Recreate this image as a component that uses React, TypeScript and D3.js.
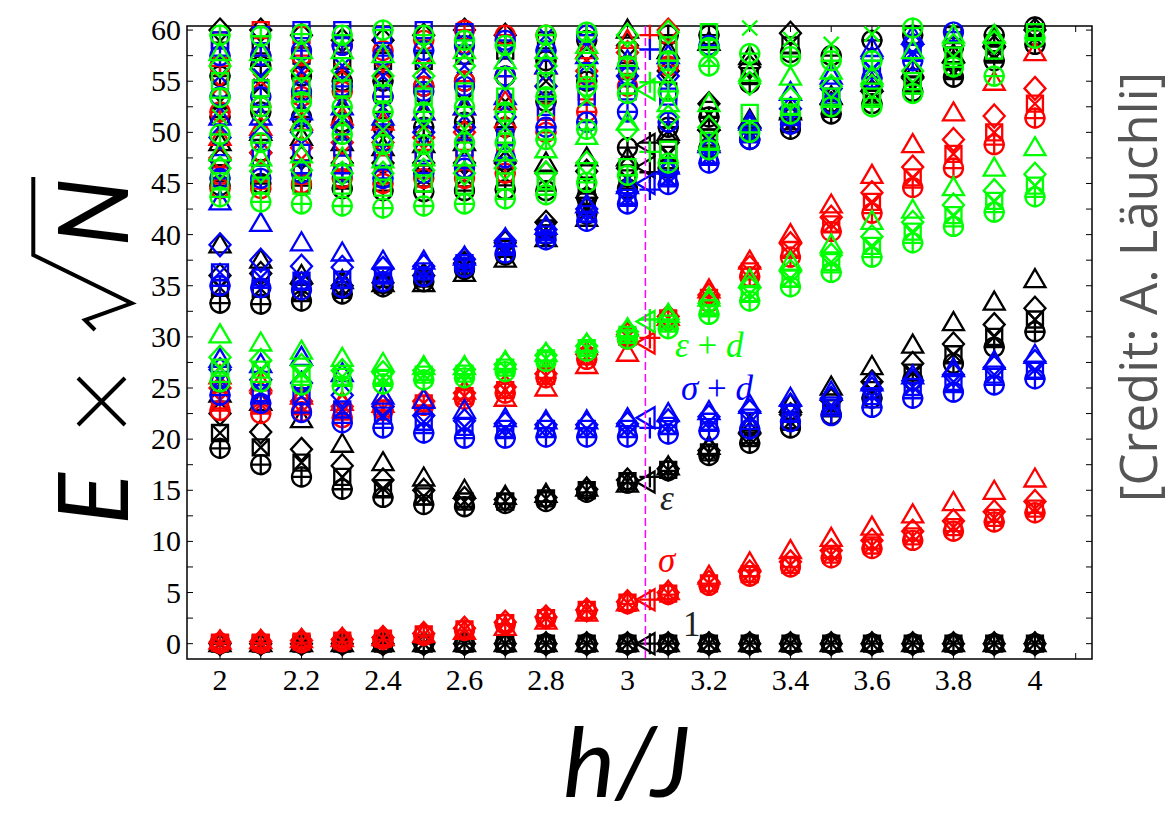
import React from "react";
import * as d3 from "d3";

// h/J columns of the scan
const hValues = [2.0, 2.1, 2.2, 2.3, 2.4, 2.5, 2.6, 2.7, 2.8, 2.9, 3.0, 3.1, 3.2, 3.3, 3.4, 3.5, 3.6, 3.7, 3.8, 3.9, 4.0];
const clusterH = [2.0, 2.1, 2.2, 2.3, 2.4, 2.5, 2.6, 2.7, 2.8, 2.9, 3.0, 3.1];
const upperH = [3.2, 3.3, 3.4, 3.5, 3.6, 3.7, 3.8, 3.9, 4.0];

const xTickValues = [2.0, 2.1, 2.2, 2.3, 2.4, 2.5, 2.6, 2.7, 2.8, 2.9, 3.0, 3.1, 3.2, 3.3, 3.4, 3.5, 3.6, 3.7, 3.8, 3.9, 4.0, 4.1];
const xTickLabels = ["2", "2.2", "2.4", "2.6", "2.8", "3", "3.2", "3.4", "3.6", "3.8", "4"];
const yTickValues = [0, 2.5, 5, 7.5, 10, 12.5, 15, 17.5, 20, 22.5, 25, 27.5, 30, 32.5, 35, 37.5, 40, 42.5, 45, 47.5, 50, 52.5, 55, 57.5, 60];
const yTickLabels = [0, 5, 10, 15, 20, 25, 30, 35, 40, 45, 50, 55, 60];

const hCritical = 3.044;
const hCft = 3.048;
const hCftPlus = 3.055;

// rows per h column: [circle & plus, square & cross, diamond, triangle]
const groundBlack = [
  [0, 0, 0, 0], [0, 0, 0, 0], [0, 0, 0, 0], [0, 0, 0, 0], [0, 0, 0, 0], [0, 0, 0, 0], [0, 0, 0, 0],
  [0, 0, 0, 0], [0, 0, 0, 0], [0, 0, 0, 0], [0, 0, 0, 0], [0, 0, 0, 0], [0, 0, 0, 0], [0, 0, 0, 0],
  [0, 0, 0, 0], [0, 0, 0, 0], [0, 0, 0, 0], [0, 0, 0, 0], [0, 0, 0, 0], [0, 0, 0, 0], [0, 0, 0, 0],
];
const sigmaRed = [
  [0.05, 0.1, 0.15, 0.25], [0.05, 0.1, 0.2, 0.3], [0.1, 0.2, 0.3, 0.4], [0.2, 0.3, 0.4, 0.5], [0.4, 0.5, 0.6, 0.6],
  [0.8, 0.9, 1.0, 0.9], [1.3, 1.4, 1.5, 1.2], [1.9, 2.0, 2.1, 1.6], [2.5, 2.5, 2.6, 2.2], [3.2, 3.3, 3.3, 3.0],
  [3.9, 4.0, 4.1, 4.0], [4.8, 4.9, 5.0, 5.1], [5.7, 5.9, 6.0, 6.6], [6.6, 6.8, 7.0, 7.9], [7.5, 7.7, 8.0, 9.1],
  [8.4, 8.7, 9.1, 10.3], [9.3, 9.6, 10.1, 11.4], [10.1, 10.5, 11.0, 12.6], [11.0, 11.4, 12.0, 13.8],
  [11.9, 12.3, 12.9, 14.9], [12.8, 13.2, 13.9, 16.1],
];
const epsBlack = [
  [19.1, 20.6, 22.5, 24.4], [17.5, 19.2, 20.7, 23.6], [16.3, 17.7, 19.0, 21.9], [15.1, 16.3, 17.4, 19.5],
  [14.3, 15.2, 16.0, 17.7], [13.6, 14.4, 15.0, 16.2], [13.4, 13.9, 14.2, 15.0], [13.7, 13.9, 14.1, 14.4],
  [13.9, 14.2, 14.3, 14.6], [14.8, 15.0, 15.1, 15.2], [15.7, 15.9, 16.0, 15.6], [16.9, 17.0, 17.1, 17.3],
  [18.4, 18.7, 18.9, 19.3], [19.6, 20.1, 20.5, 21.4], [21.1, 21.7, 22.4, 23.4], [22.4, 23.0, 23.8, 25.1],
  [24.0, 24.8, 25.6, 27.1], [25.8, 26.5, 27.4, 29.2], [27.4, 28.3, 29.3, 31.4], [29.0, 30.0, 31.2, 33.4],
  [30.5, 31.7, 32.8, 35.6],
];
const sigmaDBlue = [
  [24.3, 25.8, 26.8, 27.8], [23.5, 24.5, 25.8, 27.3], [22.6, 24.2, 25.5, 28.0], [21.6, 22.9, 24.3, 26.4],
  [21.1, 22.3, 23.2, 24.2], [20.6, 21.7, 22.3, 23.8], [20.1, 21.2, 21.8, 22.8], [20.1, 21.0, 21.5, 22.0],
  [20.2, 21.0, 21.4, 21.8], [20.2, 21.0, 21.4, 21.8], [20.2, 21.0, 21.5, 22.0], [20.5, 21.3, 21.8, 22.5],
  [20.8, 21.7, 22.2, 22.7], [21.0, 22.1, 22.7, 23.3], [21.7, 22.6, 23.3, 24.0], [22.3, 23.3, 24.0, 24.6],
  [23.1, 24.2, 24.9, 25.5], [24.0, 25.1, 25.7, 26.2], [24.6, 25.6, 26.3, 26.9], [25.3, 26.3, 27.0, 27.6],
  [25.9, 26.8, 27.6, 28.2],
];
const redUpper = [
  [22.8, 23.8, 25.0, 26.2], [22.5, 23.4, 24.5, 25.5], [22.7, 23.2, 23.7, 24.2], [22.1, 22.7, 23.2, 23.6],
  [22.8, 23.0, 23.2, 23.4], [23.3, 23.5, 23.7, 23.9], [23.9, 24.2, 24.5, 24.7], [24.5, 24.8, 25.1, 24.0],
  [26.0, 26.2, 26.4, 25.0], [27.8, 28.1, 28.3, 27.2], [29.8, 30.0, 30.2, 28.4], [31.6, 31.8, 32.0, 31.9],
  [33.4, 33.8, 34.1, 34.6], [35.9, 36.4, 36.8, 37.4], [37.8, 38.5, 39.1, 40.0], [40.3, 41.0, 41.7, 42.9],
  [42.1, 43.2, 44.1, 45.8], [44.6, 45.6, 46.6, 48.8], [46.5, 47.9, 49.3, 51.9], [48.8, 50.0, 51.6, 54.9],
  [51.4, 52.8, 54.3, 57.8],
];
const epsDGreen = [
  [25.6, 27.0, 28.0, 30.2], [25.6, 26.8, 27.7, 29.4], [25.3, 26.4, 27.2, 28.6], [25.2, 26.1, 26.7, 27.9],
  [25.4, 26.0, 26.5, 27.4], [25.8, 26.3, 26.7, 27.1], [26.0, 26.4, 26.8, 27.1], [26.6, 27.0, 27.3, 27.6],
  [27.6, 27.9, 28.2, 28.4], [28.6, 28.9, 29.1, 29.3], [29.8, 30.2, 30.5, 30.8], [30.8, 31.3, 31.7, 32.2],
  [32.2, 32.8, 33.3, 33.8], [33.5, 34.2, 34.8, 35.6], [34.9, 35.7, 36.4, 37.3], [36.3, 37.3, 38.0, 39.0],
  [37.8, 38.9, 39.8, 41.3], [39.2, 40.3, 41.2, 42.4], [40.8, 41.9, 42.9, 44.6], [42.2, 43.3, 44.3, 46.5],
  [43.7, 44.8, 45.9, 48.5],
];
const bandBlack = [
  [33.3, 34.8, 36.0, 39.0], [33.2, 34.7, 36.2, 37.5], [33.5, 34.3, 35.2, 36.0], [34.2, 34.6, 35.0, 35.5],
  [34.9, 35.1, 35.3, 35.2], [35.4, 35.7, 36.0, 35.2], [36.6, 36.9, 37.2, 36.2], [38.0, 38.6, 39.2, 37.6],
  [40.0, 40.6, 41.2, 39.6], [42.0, 42.8, 43.6, 41.6], [44.5, 45.5, 46.5, 47.5], [46.5, 47.8, 49.0, 50.0],
  [48.5, 49.5, 50.2, 51.0], [49.3, 50.0, 50.5, 51.2], [50.3, 50.8, 51.4, 52.0], [51.8, 52.3, 52.8, 53.5],
  [52.8, 53.4, 54.0, 54.8], [54.0, 54.6, 55.3, 56.2], [55.4, 56.0, 56.8, 57.6], [57.0, 57.6, 58.3, 59.2],
  [58.6, 59.2, 60.0, 61.0],
];
const bandBlue = [
  [35.0, 36.3, 39.0, 43.2], [34.8, 35.8, 37.5, 41.1], [34.6, 35.5, 36.9, 39.2], [34.8, 35.6, 36.8, 38.2],
  [35.4, 36.0, 36.7, 37.4], [35.9, 36.4, 36.9, 37.4], [36.8, 37.2, 37.6, 37.8], [38.2, 38.8, 39.4, 39.6],
  [39.5, 40.0, 40.5, 40.8], [41.3, 42.0, 42.5, 42.9], [43.0, 43.6, 44.2, 44.8], [44.9, 45.5, 46.1, 46.7],
  [47.0, 47.6, 48.2, 48.8], [49.3, 49.8, 50.4, 51.0], [50.8, 51.5, 52.3, 53.9], [52.8, 53.5, 54.3, 55.5],
  [55.3, 56.2, 57.2, 58.2], [57.0, 57.8, 58.6, 59.4], [59.8, 61, 61, 61], [61, 61, 61, 61], [61, 61, 61, 61],
];

// dense upper spectrum, one list per h column (2.0 .. 3.1)
const clusterBlack = [
  [44.8, 46.0, 47.3, 49.0, 51.5, 53.0, 55.5, 58.0, 60.0],
  [45.0, 46.5, 48.0, 50.0, 52.0, 54.5, 56.5, 58.5, 60.0],
  [44.8, 46.0, 47.5, 49.5, 51.5, 53.5, 55.5, 57.5, 59.5],
  [44.5, 45.5, 47.0, 49.0, 51.0, 53.0, 55.0, 57.0, 59.0],
  [44.3, 45.5, 47.0, 48.5, 50.5, 52.5, 55.0, 57.0, 59.0],
  [44.2, 45.5, 47.0, 48.8, 50.5, 52.5, 54.5, 57.0, 59.5],
  [44.3, 45.5, 47.0, 49.0, 51.0, 53.0, 55.0, 57.5, 60.0],
  [44.4, 45.6, 47.0, 48.0, 50.5, 53.0, 55.5, 58.0, 59.5],
  [44.3, 45.4, 46.0, 47.0, 53.0, 55.0, 57.0, 59.0],
  [43.6, 44.8, 46.2, 47.5, 55.0, 57.0, 59.0],
  [48.5, 56.0, 58.5, 60.0],
  [50.5, 54.0, 56.0, 58.0, 59.5],
];
const clusterRed = [
  [44.5, 45.8, 47.5, 49.5, 52.0, 54.5, 56.5, 59.0],
  [44.5, 46.0, 48.0, 50.5, 52.5, 55.0, 57.5, 60.0],
  [45.0, 46.5, 48.5, 51.0, 53.5, 55.5, 57.5, 59.5],
  [45.5, 47.0, 49.0, 51.5, 54.0, 56.0, 58.5],
  [45.0, 47.0, 49.0, 51.0, 53.5, 56.0, 58.0],
  [45.5, 47.5, 49.5, 52.0, 54.5, 56.5, 59.0],
  [45.5, 47.5, 50.0, 52.5, 55.0, 57.5, 60.0],
  [46.0, 48.0, 50.5, 53.0, 55.5, 57.5, 59.5],
  [50.0, 52.0, 54.5, 56.5, 59.5],
  [52.0, 54.0, 56.0, 58.0, 59.5],
  [54.5, 56.5, 57.8, 59.0],
  [56.5, 58.0, 60.0],
];
const clusterBlue = [
  [45.5, 47.0, 49.5, 51.5, 53.5, 55.5, 57.5, 59.0],
  [45.5, 47.5, 49.5, 51.5, 53.5, 55.5, 57.5, 59.5],
  [46.0, 48.0, 50.0, 52.0, 54.0, 56.0, 58.0, 60.0],
  [46.0, 48.5, 50.5, 52.5, 54.5, 56.5, 58.5, 60.0],
  [45.5, 47.5, 49.5, 51.5, 53.5, 55.5, 57.5, 59.5],
  [46.0, 48.0, 50.0, 52.0, 54.0, 56.0, 58.0, 60.0],
  [46.5, 48.5, 50.5, 52.5, 54.5, 56.5, 58.5, 59.8],
  [47.5, 49.5, 51.5, 53.5, 55.5, 57.5, 59.0],
  [50.5, 52.5, 54.5, 56.5, 58.0, 59.5],
  [51.0, 53.5, 55.5, 57.5, 59.5],
  [52.0, 54.0, 55.5, 57.0],
  [51.0, 53.5, 55.5, 57.5],
];
const clusterGreen = [
  [43.7, 45.2, 46.5, 48.0, 49.8, 51.5, 53.4, 55.0, 56.5, 57.8, 59.5],
  [43.2, 44.8, 46.2, 47.5, 49.0, 50.8, 52.5, 54.3, 56.2, 57.8, 59.4],
  [43.0, 44.8, 46.3, 47.8, 50.2, 51.5, 53.0, 54.5, 56.0, 58.0, 59.6],
  [42.8, 44.8, 46.0, 47.5, 49.8, 51.2, 52.5, 54.3, 56.0, 58.0, 59.5],
  [42.6, 44.6, 46.0, 47.3, 48.8, 50.2, 52.0, 53.8, 55.5, 57.6, 60.0],
  [42.8, 45.0, 46.3, 47.5, 48.8, 50.5, 52.0, 53.5, 55.5, 57.5, 59.5],
  [43.0, 44.8, 46.0, 47.5, 49.0, 50.3, 52.5, 54.0, 56.5, 58.0, 59.0],
  [43.5, 45.2, 46.5, 48.0, 49.0, 50.5, 52.0, 53.5, 55.3, 57.0, 58.5],
  [43.9, 45.2, 46.0, 48.3, 49.3, 52.3, 53.5, 55.0, 56.5, 58.0, 59.5],
  [45.1, 46.2, 47.0, 49.6, 50.3, 53.2, 54.5, 55.8, 57.2, 58.5, 59.8],
  [45.8, 46.6, 50.3, 51.0, 53.8, 55.0, 56.5, 58.0, 59.5],
  [47.0, 48.3, 51.5, 52.8, 54.0, 55.5, 57.0, 58.5, 59.8],
];

// upper spectrum in the disordered phase, h = 3.2 .. 4.0
const upperBlack = [
  [51.5, 52.2, 52.8, 58.8, 59.5], [54.8, 55.5, 56.4, 57.4], [57.8, 58.5, 59.7], [57.5], [59.0],
  [59.5], [58.3, 59.5], [59.5], [60.3],
];
const upperBlue = [[58.5], [], [], [], [], [], [], [], []];
const upperGreen = [
  [48.3, 49.2, 50.5, 52.8, 56.5, 57.2, 58.3, 59.8],
  [50.0, 51.9, 54.8, 55.8, 57.7, 60.2],
  [51.8, 52.5, 53.3, 55.4, 57.4, 59.1],
  [52.5, 53.5, 54.5, 56.0, 57.0, 58.6],
  [52.5, 53.5, 54.5, 55.5, 57.0, 59.6],
  [53.8, 55.0, 56.0, 58.0, 60.2],
  [56.4, 57.5, 58.5, 59.5],
  [55.5, 58.0, 58.8, 59.5],
  [59.2, 59.8],
];

// CFT values at the critical point
const cftTriBlack = [0, 15.8, 46.6, 48.8];
const cftTriRed = [4.3, 29.4];
const cftTriBlue = [22.1, 45.0];
const cftTriGreen = [31.5, 54.2];
const cftPlusBlack = [0, 16.3, 46.1, 49.0];
const cftPlusRed = [4.3, 29.9, 59.5];
const cftPlusBlue = [21.1, 44.4, 58.1];
const cftPlusGreen = [31.7, 48.1, 54.9];

const BLACK = "#000000";
const RED = "#ff0000";
const BLUE = "#0000ff";
const GREEN = "#00ff00";

const left = 187, right = 1092, top = 26, bottom = 659;
const x = d3.scaleLinear().domain([1.919, 4.14]).range([left, right]);
const y = d3.scaleLinear().domain([-1.5, 60.4]).range([bottom, top]);

const rowTypes = [["o", "+"], ["s", "x"], ["d"], ["^"]];
const cycleTypes = ["o", "s", "d", "^", "o", "x"];

type Mark = { h: number; v: number; t: string; c: string };

function fromRows(rows: number[][], c: string): Mark[] {
  const out: Mark[] = [];
  rows.forEach((r, i) => {
    r.forEach((v, j) => {
      rowTypes[j].forEach((t) => out.push({ h: hValues[i], v, t, c }));
    });
  });
  return out;
}

function fromLists(hs: number[], lists: number[][], c: string): Mark[] {
  const out: Mark[] = [];
  lists.forEach((l, i) => {
    l.forEach((v, j) => {
      const t = cycleTypes[j % cycleTypes.length];
      out.push({ h: hs[i], v, t, c });
      if (t === "o") out.push({ h: hs[i], v, t: "+", c });
    });
  });
  return out;
}

function cft(tri: number[], plus: number[], c: string): Mark[] {
  return [
    ...tri.map((v) => ({ h: hCft, v, t: "<", c })),
    ...plus.map((v) => ({ h: hCftPlus, v, t: "+", c })),
  ];
}

const marks: Mark[] = [
  ...fromRows(groundBlack, BLACK),
  ...fromRows(epsBlack, BLACK),
  ...fromRows(bandBlack, BLACK),
  ...fromLists(clusterH, clusterBlack, BLACK),
  ...fromLists(upperH, upperBlack, BLACK),
  ...cft(cftTriBlack, cftPlusBlack, BLACK),
  ...fromRows(sigmaRed, RED),
  ...fromRows(redUpper, RED),
  ...fromLists(clusterH, clusterRed, RED),
  ...cft(cftTriRed, cftPlusRed, RED),
  ...fromRows(sigmaDBlue, BLUE),
  ...fromRows(bandBlue, BLUE),
  ...fromLists(clusterH, clusterBlue, BLUE),
  ...fromLists(upperH, upperBlue, BLUE),
  ...cft(cftTriBlue, cftPlusBlue, BLUE),
  ...fromRows(epsDGreen, GREEN),
  ...fromLists(clusterH, clusterGreen, GREEN),
  ...fromLists(upperH, upperGreen, GREEN),
  ...cft(cftTriGreen, cftPlusGreen, GREEN),
].filter((m) => m.v <= 60.4);

function markerPath(t: string, cx: number, cy: number) {
  switch (t) {
    case "+":
      return `M${cx - 10.5},${cy}H${cx + 10.5}M${cx},${cy - 10.5}V${cy + 10.5}`;
    case "x":
      return `M${cx - 7.5},${cy - 7.5}L${cx + 7.5},${cy + 7.5}M${cx - 7.5},${cy + 7.5}L${cx + 7.5},${cy - 7.5}`;
    case "s":
      return `M${cx - 8},${cy - 8}h16v16h-16Z`;
    case "d":
      return `M${cx},${cy - 11.5}L${cx + 10.5},${cy}L${cx},${cy + 11.5}L${cx - 10.5},${cy}Z`;
    case "^":
      return `M${cx},${cy - 10.5}L${cx + 10.5},${cy + 7.5}L${cx - 10.5},${cy + 7.5}Z`;
    case "<":
      return `M${cx - 10.5},${cy}L${cx + 7.5},${cy - 10.5}L${cx + 7.5},${cy + 10.5}Z`;
    default:
      return "";
  }
}

const serif = "'Liberation Serif', 'DejaVu Serif', serif";
const sans = "Lato, 'Open Sans', 'DejaVu Sans', sans-serif";

export default function App() {
  return (
    <svg width={1175} height={820} style={{ position: "absolute", left: 0, top: 0, background: "#fff" }}>
      <rect width={1175} height={820} fill="#fff" />

      {/* frame + ticks */}
      <rect x={left} y={top} width={right - left} height={bottom - top} fill="none" stroke="#000" strokeWidth={1.5} />
      {xTickValues.map((t) => (
        <g key={"xt" + t} stroke="#000" strokeWidth={1}>
          <line x1={x(t)} x2={x(t)} y1={bottom} y2={bottom - 6} />
          <line x1={x(t)} x2={x(t)} y1={top} y2={top + 6} />
        </g>
      ))}
      {yTickValues.map((t) => (
        <g key={"yt" + t} stroke="#000" strokeWidth={1}>
          <line x1={left} x2={left + 6} y1={y(t)} y2={y(t)} />
          <line x1={right} x2={right - 6} y1={y(t)} y2={y(t)} />
        </g>
      ))}
      {xTickLabels.map((l) => (
        <text key={"xl" + l} x={x(+l)} y={690} textAnchor="middle" fontFamily={serif} fontSize={30} fill="#000">
          {l}
        </text>
      ))}
      {yTickLabels.map((l) => (
        <text key={"yl" + l} x={181} y={y(l) + 10} textAnchor="end" fontFamily={serif} fontSize={30} fill="#000">
          {l}
        </text>
      ))}

      {/* markers */}
      <g fill="none" strokeWidth={2.3}>
        {marks.map((m, i) =>
          m.t === "o" ? (
            <circle key={i} cx={x(m.h)} cy={y(m.v)} r={9.5} stroke={m.c} />
          ) : (
            <path key={i} d={markerPath(m.t, x(m.h), y(m.v))} stroke={m.c} />
          )
        )}
      </g>

      {/* critical point */}
      <line x1={x(hCritical)} x2={x(hCritical)} y1={top} y2={bottom} stroke="#ff00ff" strokeWidth={1.5} strokeDasharray="8,4" />

      {/* level labels */}
      <g fontFamily={serif} fontSize={35}>
        <text x={675} y={357} fill={GREEN}>
          <tspan fontStyle="italic">ε</tspan> + <tspan fontStyle="italic">d</tspan>
        </text>
        <text x={681} y={400} fill={BLUE}>
          <tspan fontStyle="italic">σ</tspan> + <tspan fontStyle="italic">d</tspan>
        </text>
        <text x={660} y={510} fill="#222" fontStyle="italic">ε</text>
        <text x={658} y={572} fill={RED} fontStyle="italic">σ</text>
        <text x={683} y={636} fill="#222">1</text>
      </g>

      {/* y axis title: E x sqrt(N) */}
      <g transform="translate(128,525) rotate(-90)" fill="#000">
        <text x={0} y={0} fontFamily={sans} fontStyle="italic" fontSize={97}>E</text>
        <path d="M100,-50L147,-3M100,-3L147,-50" stroke="#000" strokeWidth={4} fill="none" />
        <path d="M195,-33L205,-43L221.7,3.7L270,-94.7L348,-94.7" stroke="#000" strokeWidth={4} fill="none" />
        <text x={278} y={0} fontFamily={sans} fontStyle="italic" fontSize={97}>N</text>
      </g>

      {/* x axis title */}
      <text x={627} y={797} textAnchor="middle" fontFamily={sans} fontStyle="italic" fontSize={98} fill="#000">
        h/J
      </text>

      {/* credit */}
      <text transform="translate(1157,287) rotate(-90)" textAnchor="middle" fontFamily="'Open Sans', sans-serif" fontSize={51} fill="#555555">
        [Credit: A. Läuchli]
      </text>
    </svg>
  );
}
